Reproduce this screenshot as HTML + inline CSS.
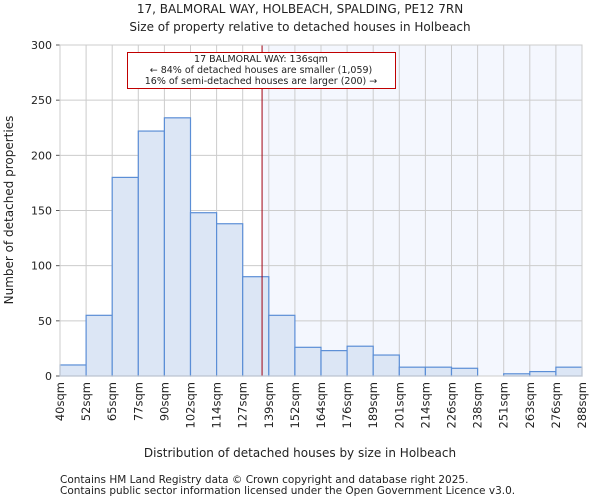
<!DOCTYPE html>
<html><head><meta charset="utf-8"><style>
body{margin:0;background:#fff;font-family:"DejaVu Sans","Liberation Sans",sans-serif}
svg text{font-family:"DejaVu Sans","Liberation Sans",sans-serif;fill:#222}
</style></head><body>
<svg id="c" width="600" height="500" viewBox="0 0 600 500">
<text x="300" y="13" font-size="12" text-anchor="middle">17, BALMORAL WAY, HOLBEACH, SPALDING, PE12 7RN</text>
<text x="300" y="31" font-size="12" text-anchor="middle">Size of property relative to detached houses in Holbeach</text>
<g id="plot"></g>
<text x="300" y="457" font-size="12" text-anchor="middle">Distribution of detached houses by size in Holbeach</text>
<text transform="translate(13,210) rotate(-90)" font-size="12" text-anchor="middle">Number of detached properties</text>
<text x="60" y="483" font-size="10.5">Contains HM Land Registry data © Crown copyright and database right 2025.</text>
<text x="60" y="494" font-size="10.5">Contains public sector information licensed under the Open Government Licence v3.0.</text>
</svg>
<script>
const categories=["40sqm","52sqm","65sqm","77sqm","90sqm","102sqm","114sqm","127sqm","139sqm","152sqm","164sqm","176sqm","189sqm","201sqm","214sqm","226sqm","238sqm","251sqm","263sqm","276sqm","288sqm"];
const counts=[10,55,180,222,234,148,138,90,55,26,23,27,19,8,8,7,0,2,4,8];
const yTicks=[0,50,100,150,200,250,300];
const propertySize=136;
const xMin=40,xMax=288;
const L=60,R=582,T=45,B=376,ns="http://www.w3.org/2000/svg";
const g=document.getElementById('plot');
const bw=(R-L)/counts.length;
const y=v=>B-(v/300)*(B-T);
const xv=v=>L+(v-xMin)/(xMax-xMin)*(R-L);
function mk(t,a,p){const e=document.createElementNS(ns,t);for(const k in a)e.setAttribute(k,a[k]);(p||g).appendChild(e);return e;}
const px=xv(propertySize);
const sh=mk('rect',{x:px,y:T,width:R-px,height:B-T,fill:'#f4f7fe'});


for(let i=0;i<=counts.length;i++){const x=L+i*bw;
const l=mk('line',{x1:x,x2:x,y1:T,y2:B,stroke:'#cccccc','stroke-width':1});


const t=mk('text',{transform:`translate(${x+4},${B+6}) rotate(-90)`,'font-size':11.5,'text-anchor':'end'});
t.textContent=categories[i];

}
yTicks.forEach(v=>{const l=mk('line',{x1:L,x2:R,y1:y(v),y2:y(v),stroke:'#cccccc','stroke-width':1});


mk('line',{x1:L-4,x2:L,y1:y(v),y2:y(v),stroke:'#555'});
const t=mk('text',{x:L-8,y:y(v)+4,'font-size':11,'text-anchor':'end'});t.textContent=v;

});
counts.forEach((c,i)=>{const r=mk('rect',{x:L+i*bw,y:y(c),width:bw,height:B-y(c),fill:'#dce6f5',stroke:'#5b8ed6','stroke-width':1.2});

});
const ml=mk('line',{x1:px,x2:px,y1:T,y2:B,stroke:'#a00010','stroke-width':1});


const bx=mk('rect',{x:127.5,y:52.5,width:268,height:36,fill:'#fff',stroke:'#c00000','stroke-width':1});


["17 BALMORAL WAY: 136sqm","← 84% of detached houses are smaller (1,059)","16% of semi-detached houses are larger (200) →"].forEach((s,i)=>{
const t=mk('text',{x:261,y:62+i*11,'font-size':9.5,'text-anchor':'middle'});t.textContent=s;

});
const fr=mk('rect',{x:L,y:T,width:R-L,height:B-T,fill:'none',stroke:'#cccccc'});


</script>
</body></html>
